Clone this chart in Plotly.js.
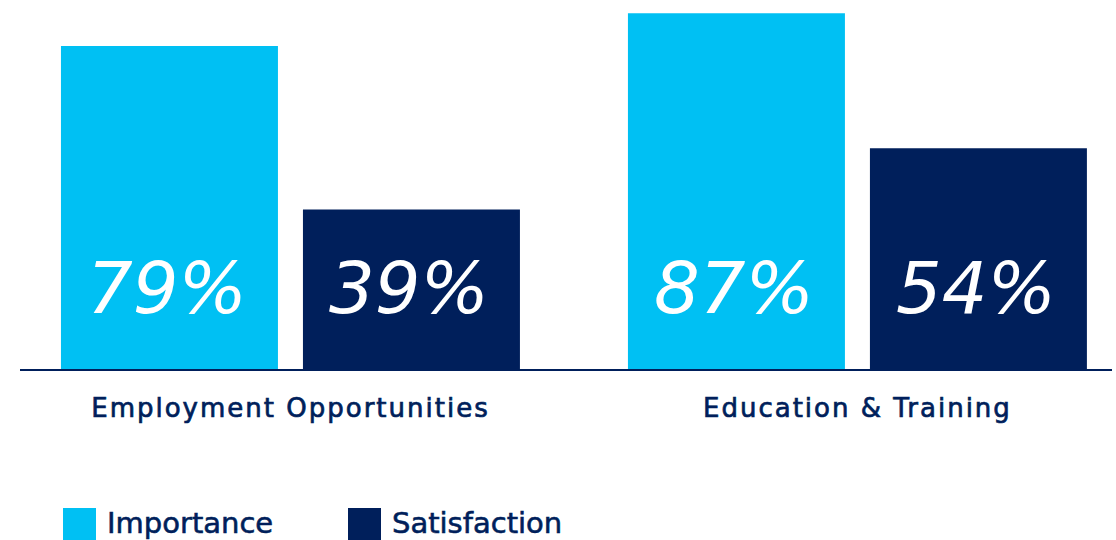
<!DOCTYPE html>
<html>
<head>
<meta charset="utf-8">
<script src="https://cdn.plot.ly/plotly-3.0.1.min.js"></script>
<style>
html,body{margin:0;padding:0;background:#fff;}
#chart{width:1116px;height:540px;}
#chart .xtick text{letter-spacing:2px;stroke:#001F5B;stroke-width:0.7px;}
#chart g.annotation[data-index="4"] text,
#chart g.annotation[data-index="5"] text{stroke:#001F5B;stroke-width:0.6px;}
</style>
</head>
<body>
<div id="chart"></div>
<script>
const categories = ["Employment Opportunities", "Education & Training"];
const seriesNames = ["Importance", "Satisfaction"];
const importance = [79, 87];
const satisfaction = [39, 54];
const seriesColors = ["#00C0F3", "#001F5B"];
const navy = "#001F5B";

const values = [importance, satisfaction];
const catIdx = categories.map((c, i) => i);

const traces = values.map((vals, s) => ({
  type: "bar",
  name: seriesNames[s],
  x: catIdx,
  y: vals,
  marker: {color: seriesColors[s], line: {width: 0}},
  hoverinfo: "skip",
  showlegend: false
}));

// value labels, centred on each bar of the group
const slotOffset = 0.2134;
const annotations = [];
values.forEach((vals, s) => {
  vals.forEach((v, i) => {
    annotations.push({
      x: i + (s === 0 ? -slotOffset : slotOffset) - 0.004,
      y: 19.8,
      xref: "x", yref: "y",
      text: v + "%",
      showarrow: false,
      xanchor: "center", yanchor: "middle",
      font: {family: "'DejaVu Sans'", size: 72, color: "#ffffff", style: "italic"}
    });
  });
});

// legend (manual, large swatches)
const plotL = 20, plotW = 1092, plotH = 369;
const px2x = px => (px - plotL) / plotW;
const py2y = py => 1 - py / plotH;
const legendX = [63, 348];
const shapes = [];
seriesNames.forEach((n, s) => {
  shapes.push({
    type: "rect", xref: "paper", yref: "paper",
    x0: px2x(legendX[s]), x1: px2x(legendX[s] + 33),
    y0: py2y(508), y1: py2y(541),
    fillcolor: seriesColors[s], line: {width: 0}
  });
  annotations.push({
    xref: "paper", yref: "paper",
    x: px2x(legendX[s] + 42), y: py2y(523),
    xanchor: "left", yanchor: "middle",
    text: n, showarrow: false,
    font: {family: "'DejaVu Sans'", size: 29, color: navy}
  });
});

const layout = {
  width: 1116, height: 540,
  margin: {l: plotL, r: 1116 - plotL - plotW, t: 0, b: 540 - plotH},
  paper_bgcolor: "#ffffff", plot_bgcolor: "#ffffff",
  barmode: "group",
  bargap: 0.1464,
  bargroupgap: 0.1033,
  showlegend: false,
  xaxis: {
    range: [-0.477, 1.449],
    tickmode: "array", tickvals: catIdx, ticktext: categories,
    showline: true, linecolor: navy, linewidth: 2,
    showgrid: false, zeroline: false, ticks: "",
    tickfont: {family: "'DejaVu Sans'", size: 26, color: navy},
    ticklabelstandoff: 15,
    fixedrange: true
  },
  yaxis: {
    range: [0, 90.22],
    showgrid: false, zeroline: false, showline: false,
    showticklabels: false, ticks: "",
    fixedrange: true
  },
  annotations: annotations,
  shapes: shapes
};

Plotly.newPlot("chart", traces, layout, {displayModeBar: false, staticPlot: true});
</script>
</body>
</html>
